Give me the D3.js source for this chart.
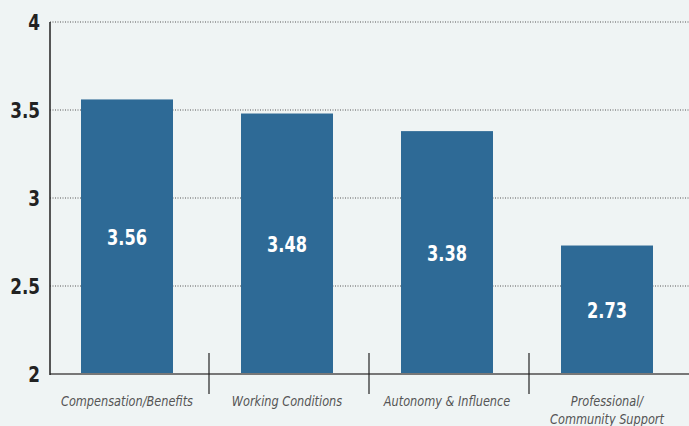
<!DOCTYPE html>
<html>
<head>
<meta charset="utf-8">
<script src="https://cdn.jsdelivr.net/npm/d3@7"></script>
<style>
  body { margin: 0; background: #eff4f4; }
  svg { display: block; }
  .cond { font-family: "DejaVu Sans Condensed", "DejaVu Sans", sans-serif; font-stretch: condensed; }
</style>
</head>
<body>
<svg id="chart"></svg>
<script>
const categories = [["Compensation/Benefits"], ["Working Conditions"], ["Autonomy & Influence"], ["Professional/", "Community Support"]];
const values = [3.56, 3.48, 3.38, 2.73];
const yTicks = [2, 2.5, 3, 3.5, 4];

const width = 689, height = 426;
const svg = d3.select("#chart").attr("width", width).attr("height", height);

const x = d3.scaleBand()
    .domain(d3.range(categories.length))
    .range([47, 687])
    .paddingInner(0.425)
    .paddingOuter(0.2125);
const y = d3.scaleLinear().domain([2, 4]).range([374, 22]);

// narrow the text horizontally, the original uses a condensed face
const squeeze = (px, py, sx) => `translate(${px},${py}) scale(${sx},1)`;

// gridlines
svg.selectAll(".grid")
    .data(yTicks.filter(d => d > 2))
    .enter().append("line")
    .attr("x1", 50).attr("x2", width)
    .attr("y1", d => y(d)).attr("y2", d => y(d))
    .attr("stroke", "#555")
    .attr("stroke-width", 1)
    .attr("stroke-dasharray", "1,1.5");

// bars
svg.selectAll(".bar")
    .data(values)
    .enter().append("rect")
    .attr("x", (d, i) => x(i))
    .attr("width", x.bandwidth())
    .attr("y", d => y(d))
    .attr("height", d => y(2) - y(d))
    .attr("fill", "#2e6a96");

svg.selectAll(".val")
    .data(values)
    .enter().append("text")
    .attr("class", "cond")
    .attr("transform", (d, i) => squeeze(x(i) + x.bandwidth() / 2, (y(d) + y(2)) / 2 + 8, 0.82))
    .attr("text-anchor", "middle")
    .attr("fill", "#fff")
    .attr("font-size", 22)
    .attr("font-weight", "bold")
    .text(d => d.toFixed(2));

// x axis line
svg.append("line")
    .attr("x1", 50).attr("x2", width)
    .attr("y1", y(2)).attr("y2", y(2))
    .attr("stroke", "#777")
    .attr("stroke-width", 2);

// y axis line
svg.append("line")
    .attr("x1", 50).attr("x2", 50)
    .attr("y1", y(4)).attr("y2", y(2) + 1)
    .attr("stroke", "#222")
    .attr("stroke-width", 1.5);

// category separators
const step = x.step();
svg.selectAll(".sep")
    .data(d3.range(1, categories.length))
    .enter().append("line")
    .attr("x1", i => x(i) - step * x.paddingInner() / 2 + 2)
    .attr("x2", i => x(i) - step * x.paddingInner() / 2 + 2)
    .attr("y1", 353).attr("y2", 394)
    .attr("stroke", "#222")
    .attr("stroke-width", 1.2);

// y tick labels
svg.selectAll(".ytick")
    .data(yTicks)
    .enter().append("text")
    .attr("class", "cond")
    .attr("transform", d => squeeze(40, y(d) + 8, 0.85))
    .attr("text-anchor", "end")
    .attr("fill", "#222")
    .attr("font-size", 22)
    .attr("font-weight", "bold")
    .text(d => d);

// category labels
const cat = svg.selectAll(".cat")
    .data(categories)
    .enter().append("text")
    .attr("class", "cond")
    .attr("transform", (d, i) => squeeze(x(i) + x.bandwidth() / 2, 406, 0.9))
    .attr("text-anchor", "middle")
    .attr("fill", "#555")
    .attr("font-size", 14)
    .attr("font-style", "italic");

cat.selectAll("tspan")
    .data(d => d)
    .enter().append("tspan")
    .attr("x", 0)
    .attr("dy", (d, i) => i === 0 ? 0 : 18)
    .text(d => d);
</script>
</body>
</html>
